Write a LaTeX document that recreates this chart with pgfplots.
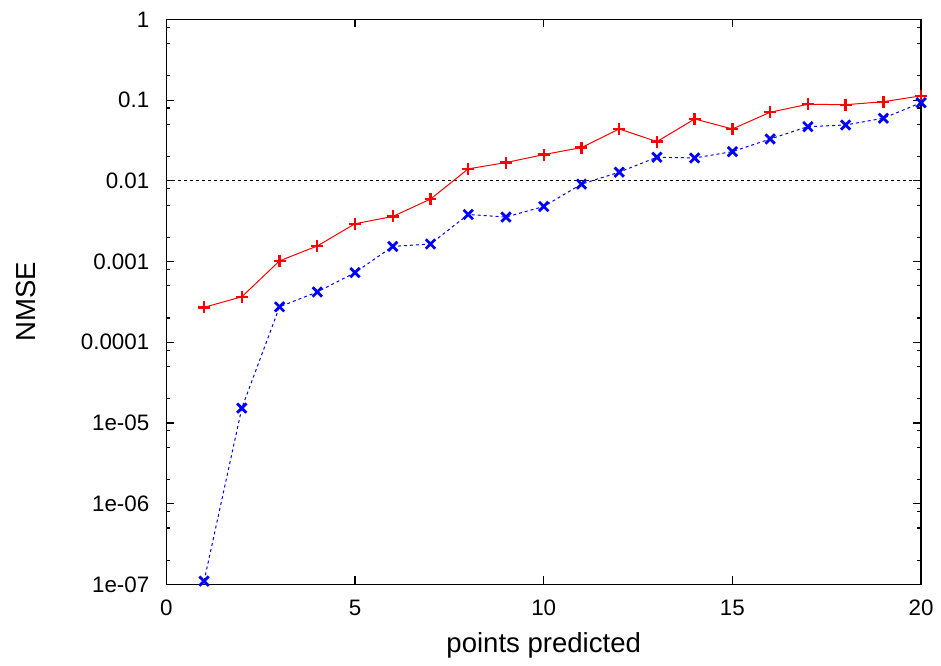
\documentclass[border=0pt]{standalone}
\usepackage{fontspec}
\setmainfont{Liberation Sans}
\usepackage{pgfplots}
\pgfplotsset{compat=1.18}
\begin{document}
\fontsize{11.2}{13}\selectfont
\begin{tikzpicture}
\begin{axis}[
  scale only axis, width=378pt, height=283pt,
  xmin=0, xmax=20, ymode=log, ymin=1e-7, ymax=1,
  xtick={0,5,10,15,20},
  ytick={1e-7,1e-6,1e-5,1e-4,1e-3,1e-2,1e-1,1},
  yticklabels={1e-07,1e-06,1e-05,0.0001,0.001,0.01,0.1,1},
  minor ytick={2e-7,5e-7,8e-7,2e-6,5e-6,8e-6,2e-5,5e-5,8e-5,2e-4,5e-4,8e-4,2e-3,5e-3,8e-3,2e-2,5e-2,8e-2,2e-1,5e-1,8e-1},
  tick align=inside,
  major tick length=4pt, minor tick length=2pt,
  every tick/.style={black, line width=0.6pt},
  axis line style={line width=0.8pt},
  /pgf/number format/assume math mode=true,
  tick label style={font=\fontsize{11.2}{13}\selectfont},
  yticklabel style={xshift=-4.6pt},
  xticklabel style={yshift=-3.8pt},
  xlabel={points predicted}, ylabel={NMSE},
  label style={font=\fontsize{13.8}{16}\selectfont},
  xlabel style={at={(axis description cs:0.5,-0.120)}, anchor=base},
  ylabel style={at={(axis description cs:-0.186,0.5)}, anchor=center},
  clip=false,
]
\addplot[black, line width=0.5pt, dash pattern=on 1.5pt off 1.5pt, forget plot] coordinates {(0,0.01) (20,0.01)};
\addplot[red, line width=0.5pt, mark=+, mark size=3pt, mark options={solid, line width=1.2pt}] coordinates {
(1,2.71e-4) (2,3.66e-4) (3,1.02e-3) (4,1.56e-3) (5,2.94e-3) (6,3.62e-3) (7,5.94e-3)
(8,0.01407) (9,0.01683) (10,0.02114) (11,0.0258) (12,0.0439) (13,0.0306) (14,0.0584)
(15,0.0439) (16,0.0707) (17,0.0888) (18,0.0877) (19,0.0955) (20,0.113)};
\addplot[blue, line width=0.5pt, dash pattern=on 1.5pt off 1.5pt, mark=x, mark size=3.3pt, mark options={solid, line width=1.4pt}] coordinates {
(1,1.1e-7) (2,1.53e-5) (3,2.75e-4) (4,4.2e-4) (5,7.3e-4) (6,1.54e-3) (7,1.65e-3)
(8,3.83e-3) (9,3.56e-3) (10,4.81e-3) (11,9.1e-3) (12,0.0128) (13,0.0196) (14,0.0192)
(15,0.0230) (16,0.0330) (17,0.0469) (18,0.0492) (19,0.0596) (20,0.0929)};
\end{axis}
\path ([xshift=-83.3pt,yshift=-38.5pt]current axis.south west) rectangle ([xshift=9pt,yshift=9.7pt]current axis.north east);
\end{tikzpicture}
\end{document}
